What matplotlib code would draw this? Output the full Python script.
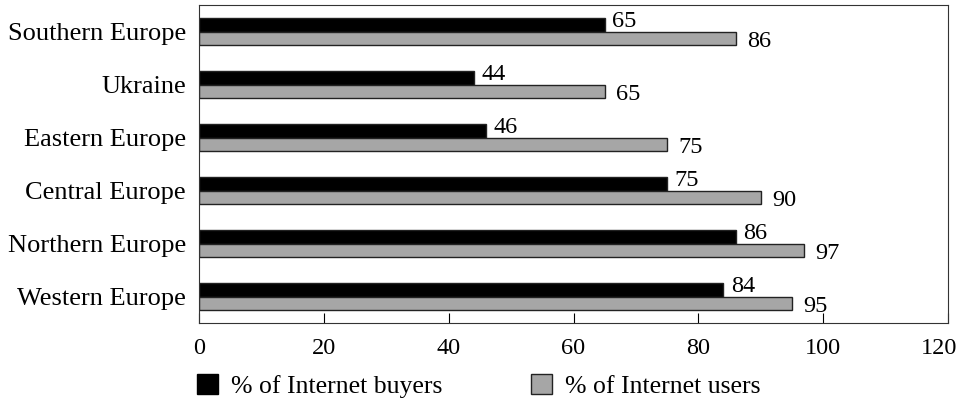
import numpy as np
import matplotlib.pyplot as plt
import matplotlib.transforms as mtransforms
from matplotlib.patches import Patch

# Regions, top to bottom as shown
regions = ["Southern Europe", "Ukraine", "Eastern Europe",
           "Central Europe", "Northern Europe", "Western Europe"]
buyers = [65, 44, 46, 75, 86, 84]
users = [86, 65, 75, 90, 97, 95]

plt.rcParams['font.family'] = ['Liberation Serif', 'DejaVu Serif']
plt.rcParams['font.size'] = 17.5

fig = plt.figure(figsize=(9.6, 3.98), dpi=100)
ax = fig.add_axes([0.2073, 0.1884, 0.7802, 0.799])

y = np.arange(len(regions))[::-1]
h = 0.26
ax.barh(y + h / 2, buyers, height=h, color="black", edgecolor="#222222", linewidth=1)
ax.barh(y - h / 2, users, height=h, color="#a6a6a6", edgecolor="#222222", linewidth=1)

# value labels
for yi, b, u in zip(y, buyers, users):
    ax.annotate(str(b), (b, yi + h / 2), xytext=(5.5, 2), textcoords="offset points",
                va="center", ha="left")
    ax.annotate(str(u), (u, yi - h / 2), xytext=(8, -2), textcoords="offset points",
                va="center", ha="left")

ax.set_xlim(0, 120)
ax.set_ylim(-0.5, len(regions) - 0.5)
ax.set_xticks(np.arange(0, 121, 20))
ax.set_yticks(y)
ax.set_yticklabels(regions, fontsize=19)
ax.tick_params(axis="x", direction="in", length=7, pad=11)
ax.tick_params(axis="y", length=0, pad=9.5)
for s in ax.spines.values():
    s.set_color("#333333")

# keep the last tick label inside the figure
last = ax.get_xticklabels()[-1]
last.set_transform(last.get_transform() +
                   mtransforms.ScaledTranslation(-0.09, 0, fig.dpi_scale_trans))

handles = [Patch(facecolor="black", edgecolor="black"),
           Patch(facecolor="#a6a6a6", edgecolor="#222222")]
fig.legend(handles, ["% of Internet buyers", "% of Internet users"], ncol=2,
           loc="lower left", bbox_to_anchor=(0.2052, 0.0), frameon=False,
           fontsize=18.5, borderpad=0, borderaxespad=0,
           handlelength=0.82, handleheight=0.82, handletextpad=0.5,
           columnspacing=3.46)

fig.savefig("out.png", dpi=100)
